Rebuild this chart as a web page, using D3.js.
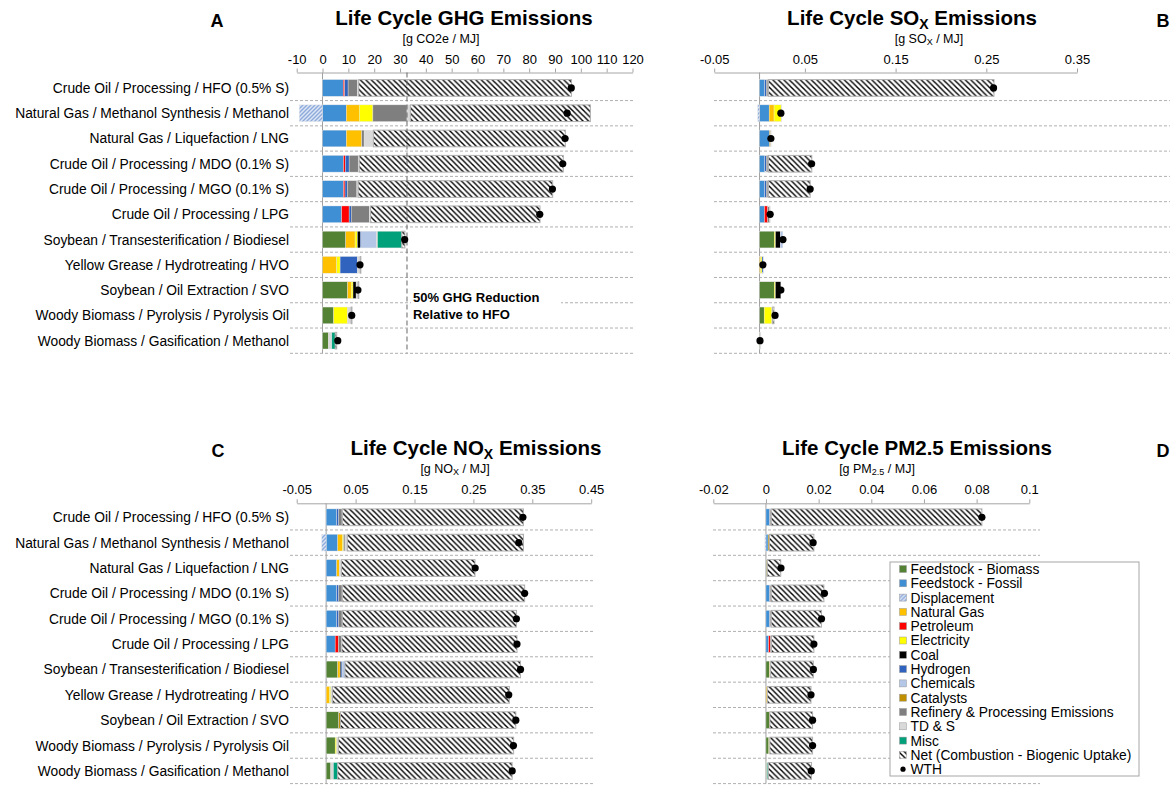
<!DOCTYPE html>
<html>
<head>
<meta charset="utf-8">
<script src="https://cdn.jsdelivr.net/npm/d3@7"></script>
<style>
  body { margin: 0; background: #fff; }
  svg { font-family: "Liberation Sans", Arial, sans-serif; }
</style>
</head>
<body>
<svg id="chart" width="1172" height="786"></svg>
<script>
const pathways = [
  'Crude Oil / Processing / HFO (0.5% S)',
  'Natural Gas / Methanol Synthesis / Methanol',
  'Natural Gas / Liquefaction / LNG',
  'Crude Oil / Processing / MDO (0.1% S)',
  'Crude Oil / Processing / MGO (0.1% S)',
  'Crude Oil / Processing / LPG',
  'Soybean / Transesterification / Biodiesel',
  'Yellow Grease / Hydrotreating / HVO',
  'Soybean / Oil Extraction / SVO',
  'Woody Biomass / Pyrolysis / Pyrolysis Oil',
  'Woody Biomass / Gasification / Methanol'
];

// legend order = stacking order (displacement goes left of zero)
const components = [
  'Feedstock - Biomass', 'Feedstock - Fossil', 'Displacement', 'Natural Gas', 'Petroleum',
  'Electricity', 'Coal', 'Hydrogen', 'Chemicals', 'Catalysts',
  'Refinery & Processing Emissions', 'TD & S', 'Misc', 'Net (Combustion - Biogenic Uptake)'
];
const componentColors = [
  '#548235', '#3f8fd5', 'url(#disp)', '#ffc000', '#ff0000',
  '#ffff00', '#000000', '#2f63bd', '#b4c7e7', '#bf8f00',
  '#7f7f7f', '#d9d9d9', '#00a07a', 'url(#hatch)'
];

// columns follow `components`
const ghgValues = [
  [0, 8.0, 0, 0, 0.6, 0, 0, 1.3, 0, 0, 3.6, 0.5, 0, 82.4],
  [0, 9.2, -9.0, 5.0, 0, 5.3, 0, 0, 0, 0, 13.2, 1.3, 0, 69.7],
  [0, 9.2, 0, 6.0, 0, 0, 0, 0, 0, 0, 0.9, 3.6, 0, 74.3],
  [0, 8.1, 0, 0, 0.7, 0, 0, 1.5, 0, 0, 3.5, 0.4, 0, 79.0],
  [0, 8.1, 0, 0, 0.6, 0, 0, 0.9, 0, 0, 3.7, 0.5, 0, 75.3],
  [0, 7.4, 0, 0, 2.9, 0, 0, 0.8, 0, 0, 7.0, 0.5, 0, 65.6],
  [9.0, 0, 0, 3.6, 0, 0.9, 1.1, 0.6, 5.6, 0, 0, 0.5, 9.4, 1.2],
  [0, 0, 0, 5.5, 0, 1.3, 0, 6.7, 0, 0, 0, 1.1, 0, 0.2],
  [9.7, 0, 0, 1.4, 0, 0.7, 1.2, 0, 0, 0, 0, 0.8, 0, 0.1],
  [4.3, 0, 0, 0, 0, 5.4, 0, 0, 0, 0, 0, 1.4, 0, 0.3],
  [2.3, 0, 0, 0, 0, 0, 0, 0, 0, 0, 0, 1.3, 1.3, 0.6]
];
const ghgWth = [96.3, 94.7, 93.9, 93.0, 89.0, 84.1, 31.8, 14.5, 13.7, 11.3, 5.9];
const ghgTicks = [-10, 0, 10, 20, 30, 40, 50, 60, 70, 80, 90, 100, 110, 120];
const ghgReduction = 32.7;

const soxValues = [
  [0, 0.0058, 0, 0, 0, 0, 0, 0.0017, 0, 0, 0.0018, 0.0005, 0, 0.2487],
  [0, 0.0106, -0.002, 0.0054, 0, 0.0078, 0, 0, 0, 0, 0, 0.0008, 0, 0],
  [0, 0.011, 0, 0, 0, 0, 0, 0, 0, 0.0012, 0, 0.0003, 0, 0],
  [0, 0.0058, 0, 0, 0, 0, 0, 0.0017, 0, 0, 0.0018, 0.0005, 0, 0.0478],
  [0, 0.0058, 0, 0, 0, 0, 0, 0.0017, 0, 0, 0.0018, 0.0005, 0, 0.046],
  [0, 0.0054, 0, 0, 0.0037, 0, 0, 0, 0, 0, 0.0022, 0.0004, 0, 0],
  [0.0162, 0, 0, 0, 0, 0.0014, 0.0052, 0, 0.0029, 0, 0, 0, 0, 0],
  [0, 0, 0, 0.0013, 0, 0.0014, 0, 0.0013, 0, 0, 0, 0, 0, 0],
  [0.0162, 0, 0, 0, 0, 0.0013, 0.006, 0, 0, 0, 0, 0, 0, 0],
  [0.0051, 0, 0, 0, 0, 0.0085, 0, 0, 0, 0, 0, 0.0008, 0, 0.0015],
  [0.0003, 0, 0, 0, 0, 0, 0, 0, 0, 0, 0, 0.0012, 0, 0]
];
const soxWth = [0.258, 0.0235, 0.0125, 0.0574, 0.0558, 0.0117, 0.0258, 0.0037, 0.0235, 0.0171, 0.0005];
const soxTicks = [-0.05, 0.05, 0.15, 0.25, 0.35];

const noxValues = [
  [0, 0.018, 0, 0, 0, 0, 0, 0.0035, 0, 0, 0.0055, 0.0005, 0, 0.3075],
  [0, 0.0197, -0.0075, 0.008, 0, 0.002, 0, 0, 0, 0, 0.0023, 0.004, 0, 0.299],
  [0, 0.018, 0, 0.0046, 0, 0, 0, 0, 0, 0, 0, 0.0035, 0, 0.2266],
  [0, 0.018, 0, 0, 0, 0, 0, 0.0035, 0, 0, 0.0055, 0.0005, 0, 0.3095],
  [0, 0.018, 0, 0, 0, 0, 0, 0.0035, 0, 0, 0.0055, 0.0005, 0, 0.2955],
  [0, 0.0153, 0, 0, 0.0057, 0, 0, 0, 0, 0, 0.005, 0.0008, 0, 0.2972],
  [0.0197, 0, 0, 0.004, 0, 0, 0.0017, 0.0025, 0.0041, 0, 0, 0, 0, 0.298],
  [0, 0, 0, 0.0057, 0, 0.0023, 0, 0, 0, 0, 0, 0.0028, 0, 0.3002],
  [0.0215, 0, 0, 0, 0, 0, 0, 0, 0, 0.0028, 0, 0, 0, 0.2977],
  [0.0153, 0, 0, 0, 0, 0.0027, 0, 0, 0, 0, 0, 0.0028, 0, 0.2975],
  [0.0079, 0, 0, 0, 0, 0, 0, 0, 0, 0, 0, 0.0045, 0.0073, 0.2961]
];
const noxWth = [0.334, 0.327, 0.253, 0.337, 0.323, 0.324, 0.33, 0.31, 0.322, 0.318, 0.3158];
const noxTicks = [-0.05, 0.05, 0.15, 0.25, 0.35, 0.45];

const pmValues = [
  [0, 0.0013, 0, 0, 0, 0, 0, 0.0002, 0, 0, 0.0004, 0.0001, 0, 0.08],
  [0, 0.0008, -0.0004, 0, 0, 0, 0, 0, 0, 0.0005, 0, 0, 0, 0.0169],
  [0, 0.0002, 0, 0, 0, 0, 0, 0, 0, 0.0003, 0, 0, 0, 0.0051],
  [0, 0.0013, 0, 0, 0, 0, 0, 0.0002, 0, 0, 0.0004, 0.0001, 0, 0.02],
  [0, 0.0013, 0, 0, 0, 0, 0, 0.0002, 0, 0, 0.0004, 0.0001, 0, 0.0191],
  [0, 0.001, 0, 0, 0.0007, 0, 0, 0, 0, 0, 0.0003, 0.0001, 0, 0.0161],
  [0.0013, 0, 0, 0.0002, 0, 0, 0, 0, 0.0001, 0, 0, 0.0002, 0, 0.0162],
  [0, 0, 0, 0.0004, 0, 0, 0, 0, 0, 0, 0, 0.0001, 0, 0.0166],
  [0.0013, 0, 0, 0, 0, 0, 0, 0, 0, 0.0002, 0, 0, 0, 0.0162],
  [0.0011, 0, 0, 0, 0, 0.0003, 0, 0, 0, 0, 0, 0.0001, 0, 0.0162],
  [0.0003, 0, 0, 0, 0, 0, 0, 0, 0, 0, 0, 0.0002, 0.0004, 0.0164]
];
const pmWth = [0.082, 0.0179, 0.0057, 0.0222, 0.0211, 0.0182, 0.018, 0.0171, 0.0177, 0.0177, 0.0172];
const pmTicks = [-0.02, 0, 0.02, 0.04, 0.06, 0.08, 0.1];

const svg = d3.select('#chart');

// patterns
const defs = svg.append('defs');
const hatch = defs.append('pattern').attr('id', 'hatch')
  .attr('patternUnits', 'userSpaceOnUse').attr('width', 5.5).attr('height', 5.5);
hatch.append('rect').attr('width', 5.5).attr('height', 5.5).attr('fill', '#fff');
hatch.append('path').attr('d', 'M-1,-1L6.5,6.5M-1,4.5L1,6.5M4.5,-1L6.5,1')
  .attr('stroke', '#000').attr('stroke-width', 1.4);

const disp = defs.append('pattern').attr('id', 'disp')
  .attr('patternUnits', 'userSpaceOnUse').attr('width', 4).attr('height', 4);
disp.append('rect').attr('width', 4).attr('height', 4).attr('fill', '#dde6f5');
disp.append('path').attr('d', 'M-1,5L5,-1M-1,1L1,-1M3,5L5,3')
  .attr('stroke', '#8eaadb').attr('stroke-width', 1.4);

function drawPanel(cfg) {
  const x = d3.scaleLinear().domain(cfg.domain).range(cfg.xRange);
  const y = d3.scaleBand().domain(pathways).range(cfg.yRange).paddingInner(0.34).paddingOuter(0.17);
  const step = y.step();
  const g = svg.append('g');

  // row separators
  g.selectAll('.sep').data(pathways).join('line')
    .attr('x1', cfg.sepX[0]).attr('x2', cfg.sepX[1])
    .attr('y1', (d, i) => cfg.yRange[0] + step * (i + 1))
    .attr('y2', (d, i) => cfg.yRange[0] + step * (i + 1))
    .attr('stroke', '#b0b0b0').attr('stroke-dasharray', '3,2');

  // zero line
  g.append('line')
    .attr('x1', x(0)).attr('x2', x(0))
    .attr('y1', cfg.axisY).attr('y2', cfg.yRange[1])
    .attr('stroke', '#a0a0a0');

  // axis
  const axis = g.append('g').attr('transform', `translate(0,${cfg.axisY})`)
    .call(d3.axisTop(x).tickValues(cfg.ticks).tickSizeInner(4).tickSizeOuter(0)
      .tickPadding(5).tickFormat(d => String(d)));
  axis.select('.domain').attr('stroke', '#a6a6a6');
  axis.selectAll('.tick line').attr('stroke', '#a6a6a6');
  axis.selectAll('.tick text').attr('font-size', 13).attr('fill', '#000');

  // stacked bars
  cfg.values.forEach((row, i) => {
    let pos = 0;
    const segs = [];
    row.forEach((v, k) => {
      if (!v) return;
      if (v < 0) segs.push({ k, x0: v, x1: 0 });
      else { segs.push({ k, x0: pos, x1: pos + v }); pos += v; }
    });
    g.append('g').selectAll('rect').data(segs).join('rect')
      .attr('x', d => x(d.x0))
      .attr('width', d => Math.max(0.6, x(d.x1) - x(d.x0)))
      .attr('y', y(pathways[i]))
      .attr('height', y.bandwidth())
      .attr('fill', d => componentColors[d.k])
      .attr('stroke', d => d.k === 13 ? '#b0b0b0' : '#e4e4e4')
      .attr('stroke-width', d => d.k === 13 ? 1 : 0.4);
  });

  if (cfg.reduction != null) {
    g.append('line')
      .attr('x1', x(cfg.reduction)).attr('x2', x(cfg.reduction))
      .attr('y1', cfg.axisY).attr('y2', cfg.yRange[1])
      .attr('stroke', '#666').attr('stroke-dasharray', '5,3');
    const note = g.append('g');
    note.append('rect').attr('x', x(cfg.reduction) + 4).attr('y', 288)
      .attr('width', 150).attr('height', 32).attr('fill', '#fff');
    note.append('text').attr('x', x(cfg.reduction) + 6).attr('y', 302)
      .attr('font-size', 13).attr('font-weight', 'bold').text('50% GHG Reduction');
    note.append('text').attr('x', x(cfg.reduction) + 6).attr('y', 319)
      .attr('font-size', 13).attr('font-weight', 'bold').text('Relative to HFO');
  }

  // WTH dots
  g.append('g').selectAll('circle').data(cfg.wth).join('circle')
    .attr('cx', d => x(d))
    .attr('cy', (d, i) => y(pathways[i]) + y.bandwidth() / 2)
    .attr('r', 3.6).attr('fill', '#000');

  // row labels
  if (cfg.labels) {
    g.append('g').selectAll('text').data(pathways).join('text')
      .attr('x', 289)
      .attr('y', d => y(d) + y.bandwidth() / 2)
      .attr('dy', '0.36em')
      .attr('text-anchor', 'end')
      .attr('font-size', 13.8)
      .text(d => d);
  }

  // title, unit, letter
  const title = g.append('text').attr('x', cfg.titleX).attr('y', cfg.axisY - 48)
    .attr('text-anchor', 'middle').attr('font-size', 20.5).attr('font-weight', 'bold');
  cfg.title.forEach(([t, sub]) => title.append('tspan')
    .attr('baseline-shift', sub ? '-25%' : null)
    .attr('font-size', sub ? 14 : null).text(t));
  const unit = g.append('text').attr('x', cfg.unitX).attr('y', cfg.axisY - 30)
    .attr('text-anchor', 'middle').attr('font-size', 12.5);
  cfg.unit.forEach(([t, sub]) => unit.append('tspan')
    .attr('baseline-shift', sub ? '-25%' : null)
    .attr('font-size', sub ? 9 : null).text(t));
  g.append('text').attr('x', cfg.letterX).attr('y', cfg.axisY - 46)
    .attr('text-anchor', 'middle').attr('font-size', 18).attr('font-weight', 'bold')
    .text(cfg.letter);
}

drawPanel({
  values: ghgValues, wth: ghgWth, ticks: ghgTicks, domain: [-10, 120],
  xRange: [296.7, 632.5], yRange: [75.3, 353.3], axisY: 72.5, sepX: [290, 633],
  labels: true, reduction: ghgReduction,
  title: [['Life Cycle GHG Emissions']], titleX: 464,
  unit: [['[g CO2e / MJ]']], unitX: 441, letter: 'A', letterX: 217
});
drawPanel({
  values: soxValues, wth: soxWth, ticks: soxTicks, domain: [-0.05, 0.35],
  xRange: [714.2, 1077], yRange: [75.3, 353.3], axisY: 72.5, sepX: [714, 1170],
  labels: false,
  title: [['Life Cycle SO'], ['X', true], [' Emissions']], titleX: 912,
  unit: [['[g SO'], ['X', true], [' / MJ]']], unitX: 929, letter: 'B', letterX: 1163
});
drawPanel({
  values: noxValues, wth: noxWth, ticks: noxTicks, domain: [-0.05, 0.45],
  xRange: [296.7, 591.2], yRange: [504.6, 783.6], axisY: 503.3, sepX: [290, 595],
  labels: true,
  title: [['Life Cycle NO'], ['X', true], [' Emissions']], titleX: 476,
  unit: [['[g NO'], ['X', true], [' / MJ]']], unitX: 455, letter: 'C', letterX: 218
});
drawPanel({
  values: pmValues, wth: pmWth, ticks: pmTicks, domain: [-0.02, 0.1],
  xRange: [713.3, 1029.3], yRange: [504.6, 783.6], axisY: 503.3, sepX: [713, 1040],
  labels: false,
  title: [['Life Cycle PM2.5 Emissions']], titleX: 917,
  unit: [['[g PM'], ['2.5', true], [' / MJ]']], unitX: 877, letter: 'D', letterX: 1163
});

// legend
const legend = svg.append('g');
legend.append('rect').attr('x', 890).attr('y', 562).attr('width', 249).attr('height', 214)
  .attr('fill', '#fff').attr('stroke', '#a6a6a6');
const legendItems = components.map((c, k) => ({ name: c, fill: componentColors[k] }))
  .concat([{ name: 'WTH', dot: true }]);
const li = legend.selectAll('g').data(legendItems).join('g')
  .attr('transform', (d, i) => `translate(0,${569 + i * 14.3})`);
li.filter(d => !d.dot).append('rect')
  .attr('x', 899.5).attr('y', -3.5).attr('width', 7).attr('height', 7)
  .attr('fill', d => d.fill).attr('stroke', '#999').attr('stroke-width', 0.5);
li.filter(d => d.dot).append('circle')
  .attr('cx', 903).attr('cy', 0).attr('r', 2.6).attr('fill', '#000');
li.append('text').attr('x', 910.5).attr('dy', '0.36em').attr('font-size', 13.8)
  .text(d => d.name);
</script>
</body>
</html>
